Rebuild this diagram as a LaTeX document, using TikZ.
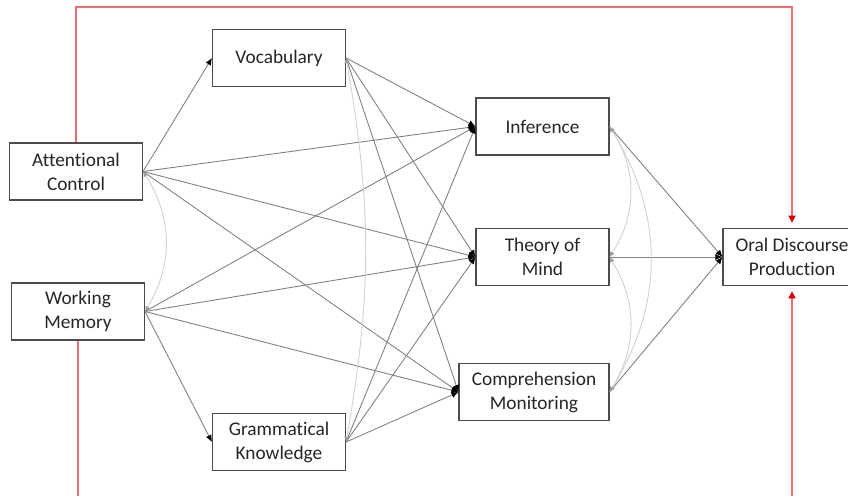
\documentclass[tikz,border=0pt]{standalone}
\usepackage{fontspec}
\setmainfont{Carlito}[Ligatures=NoCommon]
\usetikzlibrary{arrows.meta}
\definecolor{linegray}{RGB}{128,128,128}
\definecolor{covgray}{RGB}{208,208,208}
\definecolor{redline}{RGB}{236,110,110}
\tikzset{
  box/.style={draw=black!70, line width=0.6pt, minimum width=2.66cm, minimum height=1.14cm,
    align=center, text=black!85, font=\fontsize{11}{13.6}\selectfont},
  effect/.style={draw=linegray, line width=0.5pt, -{Latex[length=4pt,width=3.5pt,color=black]}},
  covar/.style={draw=covgray, line width=0.5pt,
    {Latex[length=3pt,width=3pt,color=gray!75]}-{Latex[length=3pt,width=3pt,color=gray!75]}},
  direct/.style={draw=redline, line width=1.1pt, -{Triangle[length=4pt,width=4pt,color=red!85!black]}, shorten >=3pt},
}

\begin{document}
\begin{tikzpicture}[x=0.02cm, y=0.02cm]
\clip (0,0) rectangle (848,495);
%boxes
\node [box] (ac) at (76,323.5) {Attentional\\Control};
\node [box] (wm) at (78,183.5) {Working\\Memory};
\node [box] (voc) at (279,437) {Vocabulary};
\node [box] (gram) at (279,53) {Grammatical\\Knowledge};
\node [box] (inf) at (542.5,368.5) {Inference};
\node [box] (tom) at (542.5,238) {Theory of\\Mind};
\node [box, minimum width=3cm] (cm) at (534,103) {Comprehension\\Monitoring};
\node [box, minimum width=2.76cm] (odp) at (792,238) {Oral Discourse\\Production};
%direct paths
\coordinate (top) at (792,488);
\coordinate (bottom) at (792,-20);
\draw [direct] (ac.north) |- (top) -- (odp.north);
\draw [direct] (wm.south) |- (bottom) -- (odp.south);
%predictors
\draw [effect] (ac.east) -- (voc.west);
\draw [effect] (ac.east) -- (inf.west);
\draw [effect] (ac.east) -- (tom.west);
\draw [effect] (ac.east) -- (cm.west);
\draw [effect] (wm.east) -- (gram.west);
\draw [effect] (wm.east) -- (inf.west);
\draw [effect] (wm.east) -- (tom.west);
\draw [effect] (wm.east) -- (cm.west);
%language
\draw [effect] (voc.east) -- (inf.west);
\draw [effect] (voc.east) -- (tom.west);
\draw [effect] (voc.east) -- (cm.west);
\draw [effect] (gram.east) -- (inf.west);
\draw [effect] (gram.east) -- (tom.west);
\draw [effect] (gram.east) -- (cm.west);
%outcome
\draw [effect] (inf.east) -- (odp.west);
\draw [effect] (tom.east) -- (odp.west);
\draw [effect] (cm.east) -- (odp.west);
%covariances
\draw [covar] (ac.east) to [bend left=32] (wm.east);
\draw [covar] (voc.east) to [bend left=10] (gram.east);
\draw [covar] (inf.east) to [bend left=33] (tom.east);
\draw [covar] (tom.east) to [bend left=32] (cm.east);
\draw [covar] (inf.east) to [bend left=32] (cm.east);
\end{tikzpicture}
\end{document}
